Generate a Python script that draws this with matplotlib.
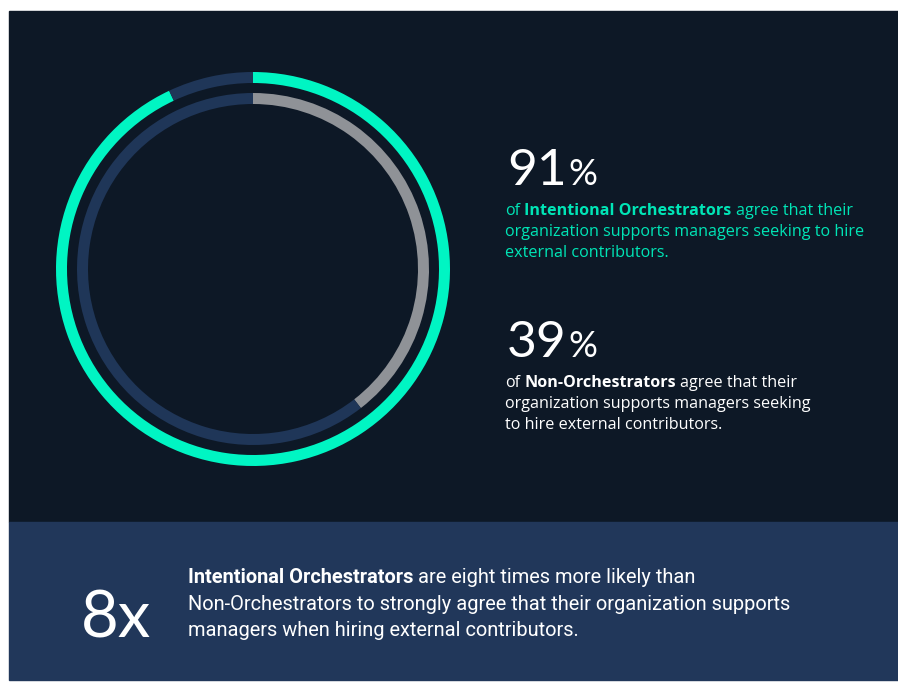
#!/usr/bin/env python3

import matplotlib
matplotlib.use("Agg")
import matplotlib.pyplot as plt
from matplotlib.patches import Rectangle

W, H = 898, 682

# data
groups = ["Intentional Orchestrators", "Non-Orchestrators"]
agree_pct = [91, 39]
arc_pct = [93, 39.5]   # arc lengths as drawn in the reference rings
multiplier = 8

body_91 = [
    [("of ", "normal"), ("Intentional Orchestrators", "bold"), (" agree that their", "normal")],
    [("organization supports managers seeking to hire", "normal")],
    [("external contributors.", "normal")],
]
body_39 = [
    [("of ", "normal"), ("Non-Orchestrators", "bold"), (" agree that their", "normal")],
    [("organization supports managers seeking", "normal")],
    [("to hire external contributors.", "normal")],
]
body_8x = [
    [("Intentional Orchestrators", "bold"), (" are eight times more likely than", "normal")],
    [("Non-Orchestrators to strongly agree that their organization supports", "normal")],
    [("managers when hiring external contributors.", "normal")],
]

BG = "#0d1826"
TRACK = "#1f3658"
GREEN = "#00f5c3"
GREEN_TXT = "#00e5b6"
GRAY = "#8f9297"
PANEL = "#21375a"

BODY_FONT = "Open Sans"
BIG_FONT = "Lato"


def py(y):
    # image y (from top) -> axes y (from bottom)
    return H - y


def text_w(ax, s, **kw):
    t = ax.text(0, 0, s, **kw)
    w = t.get_window_extent(renderer=ax.figure.canvas.get_renderer()).width
    t.remove()
    return w


def rich_line(ax, x, y, parts, size, color, family):
    for txt, weight in parts:
        kw = dict(fontsize=size, fontweight=weight, family=family)
        lead = len(txt) - len(txt.lstrip(" "))
        body = txt.strip(" ")
        sp = text_w(ax, "n n", **kw) - text_w(ax, "nn", **kw)
        x += lead * sp
        ax.text(x, py(y), body, color=color, ha="left", va="baseline", **kw)
        x += text_w(ax, body, **kw)
        x += (len(txt) - len(txt.rstrip(" "))) * sp


fig = plt.figure(figsize=(W / 100, H / 100), dpi=100, facecolor="white")
ax = fig.add_axes([0, 0, 1, 1])

cx, cy = 253, py(269)

# outer ring: Intentional Orchestrators, inner ring: Non-Orchestrators
ring_specs = [(197, GREEN), (176, GRAY)]
for pct, (r, col) in zip(arc_pct, ring_specs):
    ax.pie([pct, 100 - pct], colors=[col, TRACK], startangle=90, counterclock=False,
           radius=r, center=(cx, cy), wedgeprops=dict(width=11, linewidth=0))

ax.set_xlim(0, W)
ax.set_ylim(0, H)
ax.set_aspect("auto")
ax.axis("off")

ax.add_patch(Rectangle((9, py(522)), W - 9, 522 - 11, color=BG, zorder=-2))
ax.add_patch(Rectangle((9, py(680)), W - 9, 680 - 522, color=PANEL, zorder=-2))

# big percentages
for pct, y0 in zip(agree_pct, [185, 357]):
    t = ax.text(507, py(y0), str(pct), color="white", fontsize=37, family=BIG_FONT,
                ha="left", va="baseline")
    w = t.get_window_extent(renderer=fig.canvas.get_renderer()).width
    ax.text(507 + w + 2, py(y0), "%", color="white", fontsize=26, family=BIG_FONT,
            ha="left", va="baseline")

for i, parts in enumerate(body_91):
    rich_line(ax, 505, 215 + 21 * i, parts, 11.6, GREEN_TXT, BODY_FONT)
for i, parts in enumerate(body_39):
    rich_line(ax, 505, 387 + 21 * i, parts, 11.6, "white", BODY_FONT)

# bottom panel
ax.text(81, py(637), f"{multiplier}x", color="white", fontsize=47, family=BIG_FONT,
        ha="left", va="baseline")
for i, parts in enumerate(body_8x):
    rich_line(ax, 188, 583 + 26.5 * i, parts, 14.4, "white", "Roboto")

fig.savefig("out.png", dpi=100, facecolor="white")
